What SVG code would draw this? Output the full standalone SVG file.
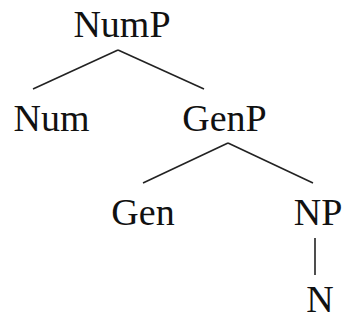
<svg xmlns="http://www.w3.org/2000/svg" width="345" height="320" viewBox="0 0 345 320">
<style>
text{font-family:"Liberation Serif","Times New Roman",serif;font-size:38px;fill:#111;text-anchor:middle}
.e{stroke:#222;stroke-width:1.6;fill:none}
</style>
<rect width="345" height="320" fill="#fff"/>
<g id="connectors">
<line class="e" x1="118" y1="50" x2="33" y2="89"/>
<line class="e" x1="118" y1="50" x2="204" y2="89"/>
<line class="e" x1="228" y1="143" x2="143" y2="183"/>
<line class="e" x1="228" y1="143" x2="313" y2="183"/>
<line class="e" x1="315" y1="238" x2="315" y2="275"/>
</g>
<g id="NumP"><text x="122" y="37">NumP</text></g>
<g id="Num"><text x="51.5" y="131">Num</text></g>
<g id="GenP"><text x="224.5" y="131">GenP</text></g>
<g id="Gen"><text x="143" y="225">Gen</text></g>
<g id="NP"><text x="318" y="225">NP</text></g>
<g id="N"><text x="320" y="312">N</text></g>
</svg>
